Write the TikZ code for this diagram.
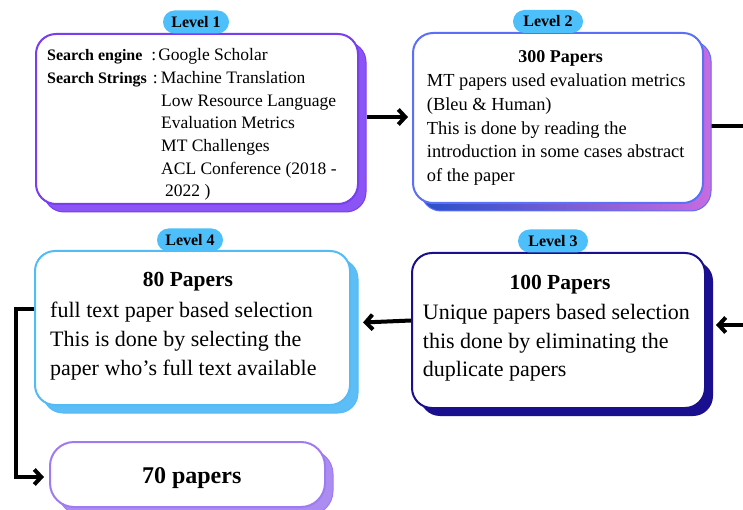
\documentclass[tikz,border=0pt]{standalone}
\usepackage{fontspec}
\setmainfont{Liberation Serif}
\usetikzlibrary{arrows.meta,shadows,backgrounds}

\definecolor{lvlblue}{HTML}{4DBFFA}
\definecolor{oneedge}{HTML}{7A3DF0}
\definecolor{oneshade}{HTML}{8B55F5}
\definecolor{twoedge}{HTML}{5B70F7}
\definecolor{twoleft}{HTML}{2850C8}
\definecolor{tworight}{HTML}{C86BE0}
\definecolor{threeedge}{HTML}{1A0F8F}
\definecolor{fouredge}{HTML}{55BBF5}
\definecolor{fourshade}{HTML}{5CBDF7}
\definecolor{fiveedge}{HTML}{A07AF0}
\definecolor{fiveshade}{HTML}{AB8DF2}

\newcommand\srchlabel[1]{{\fontsize{16}{22.67}\selectfont\bfseries #1}}

\begin{document}
\begin{tikzpicture}[x=1pt,y=-1pt,
  card/.style={draw, line width=2pt, fill=white, rounded corners=20pt, inner sep=0pt},
  badge/.style={fill=lvlblue, rounded corners=11.5pt, minimum height=23pt, inner sep=0pt,
    font=\fontsize{16}{18}\selectfont\bfseries},
  % multi-line blocks are placed by the baseline of their last line
  body/.style={anchor=base west, align=left, inner sep=0pt},
  title/.style={anchor=base, inner sep=0pt},
  conn/.style={line width=4pt, black},
  arr/.style={conn, -{Straight Barb[length=7pt,width=15pt]}}
]
\useasboundingbox (0,0) rectangle (743,510);

% cards with their offset shadows
\node[card, draw=oneedge, minimum width=322pt, minimum height=170pt,
  drop shadow={shadow xshift=8pt, shadow yshift=-8pt, opacity=1, fill=oneshade, draw=oneedge, line width=1pt}]
  (b1) at (197,119) {};
\node[card, draw=twoedge, minimum width=290pt, minimum height=170pt,
  drop shadow={shadow xshift=8pt, shadow yshift=-8pt, opacity=1, left color=twoleft, right color=tworight, draw=twoedge, line width=1pt}]
  (b2) at (558,118) {};
\node[card, draw=threeedge, minimum width=293pt, minimum height=155pt,
  drop shadow={shadow xshift=8pt, shadow yshift=-8pt, opacity=1, fill=threeedge}]
  (b3) at (558.5,330.5) {};
\node[card, draw=fouredge, minimum width=315pt, minimum height=154pt,
  drop shadow={shadow xshift=8pt, shadow yshift=-8pt, opacity=1, fill=fourshade, draw=fouredge, line width=1pt}]
  (b4) at (192.5,328) {};
\node[card, draw=fiveedge, rounded corners=24pt, minimum width=275pt, minimum height=65pt,
  drop shadow={shadow xshift=8pt, shadow yshift=-8pt, opacity=1, fill=fiveshade, draw=fiveedge, line width=1pt}]
  (b5) at (187.5,474.5) {};

% level badges
\node[badge, minimum width=66pt] (l1) at (196,22) {Level 1};
\node[badge, minimum width=70pt] (l2) at (548,21.5) {Level 2};
\node[badge, minimum width=70pt] (l3) at (553,241) {Level 3};
\node[badge, minimum width=66pt] (l4) at (190,240) {Level 4};

% card texts
\node[body, font=\fontsize{17.5}{22.67}\selectfont] (t1) at (47,196.7) {%
\srchlabel{Search engine}\hspace{9pt}:\hspace{2pt}Google Scholar\\
\srchlabel{Search Strings}\hspace{6pt}:\hspace{3pt}Machine Translation\\
\hspace*{114pt}Low Resource Language\\
\hspace*{114pt}Evaluation Metrics\\
\hspace*{114pt}MT Challenges\\
\hspace*{114pt}ACL Conference (2018 -\\
\hspace*{118pt}2022 )};

\node[title, font=\fontsize{18}{22}\selectfont\bfseries] (h2) at (560.5,62.3) {300 Papers};
\node[body, font=\fontsize{18.4}{23.75}\selectfont] (t2) at (426.7,181.7) {%
MT papers used evaluation metrics\\
(Bleu \& Human)\\
This is done by reading the\\
introduction in some cases abstract\\
of the paper};

\node[title, font=\fontsize{21.5}{26}\selectfont\bfseries] (h3) at (560,289.3) {100 Papers};
\node[body, font=\fontsize{22}{28.7}\selectfont] (t3) at (422.7,376.7) {%
Unique papers based selection\\
this done by eliminating the\\
duplicate papers};

\node[title, font=\fontsize{21.5}{26}\selectfont\bfseries] (h4) at (188,286.7) {80 Papers};
\node[body, font=\fontsize{22}{29.3}\selectfont] (t4) at (50,375.9) {%
full text paper based selection\\
This is done by selecting the\\
paper who’s full text available};

\node[title, font=\fontsize{24}{28}\selectfont\bfseries] (h5) at (191.7,483.3) {70 papers};

% loose ends of the flow at the right border
\coordinate (e1) at (743,126);
\coordinate (e2) at (743,325);

\begin{scope}[on background layer]
  \fill[white] (0,0) rectangle (743,510);
  \draw[arr] ([xshift=8pt,yshift=2pt]b1.east) -- ([xshift=-4pt,yshift=2pt]b2.west |- b1.east);
  \draw[conn] (b2.east |- e1) -- (e1);
  \draw[arr] (e2) -- ([xshift=10pt]b3.east |- e2);
  \draw[arr] ([yshift=10pt]b3.west) -- ([xshift=12pt,yshift=8pt]b4.east |- b3.west);
  \draw[conn, -{Straight Barb[length=7pt,width=15pt]}, line join=miter]
    ([yshift=19pt]b4.west) -- ++(-18,0) |- ([xshift=-5pt,yshift=-2.5pt]b5.west);
\end{scope}
\end{tikzpicture}
\end{document}
